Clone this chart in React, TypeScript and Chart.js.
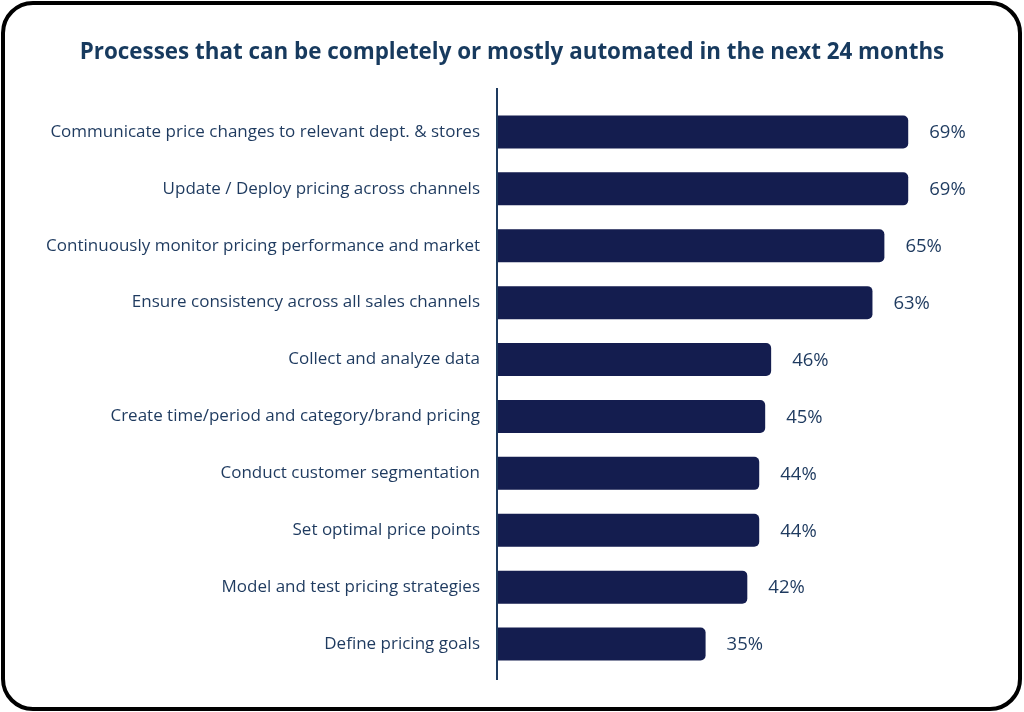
import React, { useEffect, useRef } from "react";
import { Chart, registerables } from "chart.js";

Chart.register(...registerables);

const TITLE = "Processes that can be completely or mostly automated in the next 24 months";

const categories = [
  "Communicate price changes to relevant dept. & stores",
  "Update / Deploy pricing across channels",
  "Continuously monitor pricing performance and market",
  "Ensure consistency across all sales channels",
  "Collect and analyze data",
  "Create time/period and category/brand pricing",
  "Conduct customer segmentation",
  "Set optimal price points",
  "Model and test pricing strategies",
  "Define pricing goals",
];

const values = [69, 69, 65, 63, 46, 45, 44, 44, 42, 35];

const BAR_COLOR = "#141d4f";
const TEXT_COLOR = "#1e3a5f";
const TITLE_COLOR = "#173a5e";

const decorPlugin = {
  id: "decor",
  afterDraw(chart: any) {
    const { ctx, chartArea } = chart;
    ctx.save();
    // title
    ctx.fillStyle = TITLE_COLOR;
    ctx.font = "bold 22.4px 'Open Sans', sans-serif";
    ctx.textAlign = "center";
    ctx.textBaseline = "middle";
    ctx.fillText(TITLE, 512, 53);
    // axis line
    ctx.strokeStyle = TEXT_COLOR;
    ctx.lineWidth = 2;
    ctx.beginPath();
    ctx.moveTo(chartArea.left, 88);
    ctx.lineTo(chartArea.left, 680);
    ctx.stroke();
    // value labels
    const meta = chart.getDatasetMeta(0);
    ctx.font = "18.5px 'Open Sans', sans-serif";
    ctx.textAlign = "left";
    ctx.fillStyle = TEXT_COLOR;
    meta.data.forEach((bar: any, i: number) => {
      ctx.fillText(values[i] + "%", bar.x + 21, bar.y + 1);
    });
    ctx.restore();
  },
};

export default function App() {
  const ref = useRef<HTMLCanvasElement>(null);
  useEffect(() => {
    document.body.style.margin = "0";
    const chart = new Chart(ref.current!, {
      type: "bar",
      data: {
        labels: categories,
        datasets: [
          {
            data: values,
            backgroundColor: BAR_COLOR,
            borderRadius: { topLeft: 0, bottomLeft: 0, topRight: 5, bottomRight: 5 },
            borderSkipped: false,
            barPercentage: 0.58,
            categoryPercentage: 1,
          },
        ],
      },
      options: {
        indexAxis: "y",
        animation: false,
        responsive: false,
        maintainAspectRatio: false,
        layout: { padding: { top: 103.5, bottom: 39.5, right: 24, left: 0 } },
        plugins: {
          legend: { display: false },
          title: { display: false },
          tooltip: { enabled: false },
        },
        scales: {
          x: { display: false, min: 0, max: 84.4 },
          y: {
            afterFit(scale: any) {
              scale.width = 497;
            },
            grid: { display: false, drawTicks: false },
            border: { display: false },
            ticks: {
              padding: 17,
              color: TEXT_COLOR,
              font: { family: "'Open Sans', sans-serif", size: 17 },
            },
          },
        },
      },
      plugins: [decorPlugin],
    });
    return () => chart.destroy();
  }, []);
  return (
    <div style={{ position: "fixed", left: 0, top: 0, width: 1024, height: 712, background: "#fff" }}>
      <div
        style={{
          position: "absolute",
          left: 1,
          top: 1,
          width: 1021,
          height: 710,
          boxSizing: "border-box",
          border: "4px solid #000",
          borderRadius: 32,
        }}
      />
      <canvas ref={ref} width={1024} height={712} style={{ position: "absolute", left: 0, top: 0 }} />
    </div>
  );
}
